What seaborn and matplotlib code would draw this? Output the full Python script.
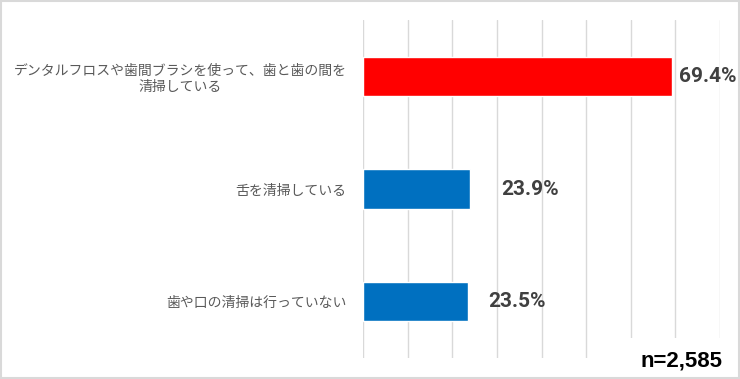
import matplotlib
matplotlib.use("Agg")
import matplotlib.pyplot as plt
import matplotlib.transforms as mtrans
from matplotlib.patches import Rectangle
import seaborn as sns
import pandas as pd

categories = ["デンタルフロスや歯間ブラシを使って、歯と歯の間を\n清掃している",
              "舌を清掃している",
              "歯や口の清掃は行っていない"]
values = [69.4, 23.9, 23.5]
value_labels = ["69.4%", "23.9%", "23.5%"]
label_offsets_px = [7, 31, 20]
colors = ["#ff0000", "#0070c0", "#0070c0"]
sample_note = "n=2,585"

sns.set_theme(style="white")
plt.rcParams['font.family'] = ['Noto Sans CJK JP', 'DejaVu Sans']

df = pd.DataFrame({"category": categories, "value": values})

fig = plt.figure(figsize=(7.4, 3.79), dpi=100)
ax = fig.add_axes([363.4 / 740, 1 - 358 / 379, (719.7 - 363.4) / 740, (358 - 20) / 379])

sns.barplot(data=df, x="value", y="category", hue="category", palette=colors,
            width=0.35, legend=False, ax=ax, orient="h", saturation=1)

ax.set_xlim(0, 80)
ax.set_ylim(2.5, -0.5)
ax.set_xticks(range(0, 81, 10))
ax.set_xticklabels([])
ax.tick_params(axis="x", length=0)
ax.tick_params(axis="y", length=0, pad=12, labelsize=10, labelcolor="#595959")
for t in ax.get_yticklabels():
    t.set_multialignment("center")
ax.grid(axis="x", color="#d9d9d9", linewidth=1)
ax.set_axisbelow(True)
for s in ax.spines.values():
    s.set_visible(False)
ax.set_xlabel("")
ax.set_ylabel("")

for i, (v, lab, off) in enumerate(zip(values, value_labels, label_offsets_px)):
    tr = ax.transData + mtrans.ScaledTranslation(off / 100, 0, fig.dpi_scale_trans)
    ax.text(v, i, lab, transform=tr, va="center", ha="left", fontsize=15,
            fontweight="bold", color="#404040", family=['Roboto', 'DejaVu Sans'])

fig.text(722 / 740, 1 - 361 / 379, sample_note, ha="right", va="center", fontsize=16,
         fontweight="bold", color="#000000", family=['Liberation Sans', 'DejaVu Sans'],
         bbox=dict(facecolor="white", edgecolor="none", pad=9), zorder=5)

fig.add_artist(Rectangle((0.001, 0.002), 0.997, 0.996, transform=fig.transFigure,
                         fill=False, edgecolor="#d9d9d9", linewidth=1.5, zorder=10))

fig.savefig("out.png", dpi=100)
